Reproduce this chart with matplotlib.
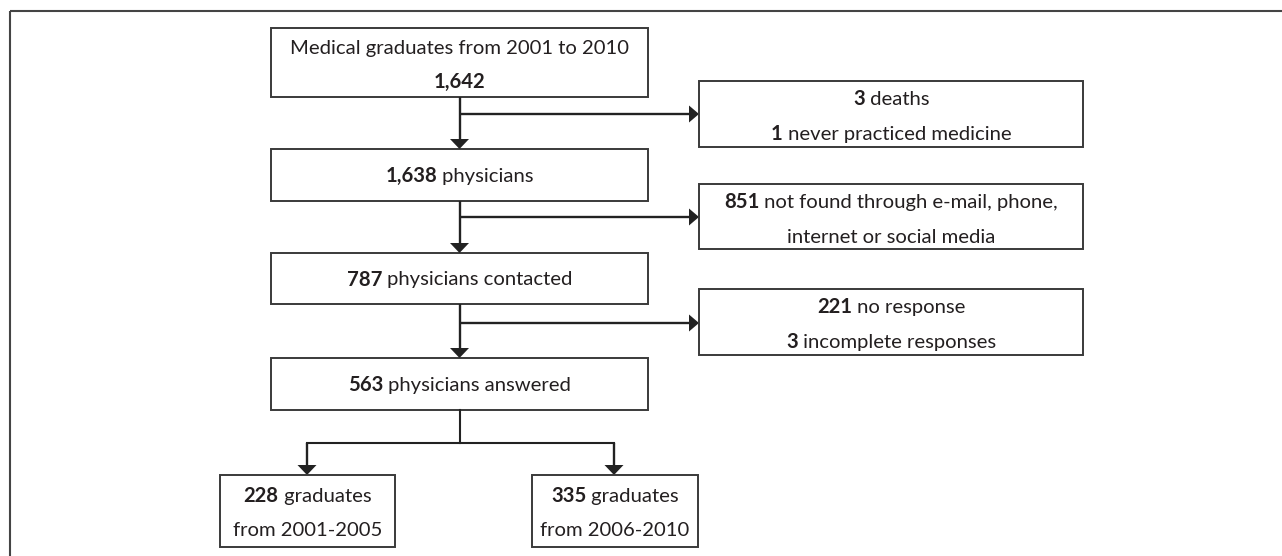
import matplotlib
matplotlib.use("Agg")
import matplotlib.pyplot as plt
from matplotlib.patches import Rectangle, Polygon

# flow data
step_counts = ["1,642", "1,638", "787", "563"]
step_texts = ["physicians", "physicians contacted", "physicians answered"]
first_step = "Medical graduates from 2001 to 2010"
excluded_counts = [["3", "1"], ["851", ""], ["221", "3"]]
excluded_texts = [["deaths", "never practiced medicine"],
                  ["not found through e-mail, phone,", "internet or social media"],
                  ["no response", "incomplete responses"]]
group_counts = ["228", "335"]
group_texts = ["from 2001-2005", "from 2006-2010"]

FONT = "Lato"
FS = 14.6
TXT = "#231f20"
EDGE = "#3a3a3a"
ARR = "#222222"

fig = plt.figure(figsize=(12.82, 5.56), dpi=100)
ax = fig.add_axes([0, 0, 1, 1])
ax.set_xlim(0, 1282)
ax.set_ylim(556, 0)
ax.axis("off")
renderer = fig.canvas.get_renderer()


def width_of(t):
    bb = t.get_window_extent(renderer=renderer)
    return bb.width


def line(xc, yc, bold_part, plain_part):
    # one centred line, bold number followed by regular text
    base = yc + 7
    parts = []
    if bold_part:
        parts.append((bold_part, "bold"))
    if plain_part:
        parts.append(((" " if bold_part else "") + plain_part, "normal"))
    texts = [ax.text(0, base, s, fontsize=FS, fontweight=w, family=FONT,
                     color=TXT, va="baseline", ha="left") for s, w in parts]
    widths = [width_of(t) for t in texts]
    x = xc - sum(widths) / 2
    for t, w in zip(texts, widths):
        t.set_x(x)
        x += w


def box(x0, y0, x1, y1):
    ax.add_patch(Rectangle((x0, y0), x1 - x0, y1 - y0, fill=False,
                           ec=EDGE, lw=1.4))


def arrow_down(x, y0, y1):
    ax.plot([x, x], [y0, y1 - 9], color=ARR, lw=1.7, solid_capstyle="butt")
    ax.add_patch(Polygon([[x - 9.5, y1 - 10], [x + 9.5, y1 - 10], [x, y1]],
                         closed=True, fc=ARR, ec="none"))


def arrow_right(x0, x1, y):
    ax.plot([x0, x1 - 9], [y, y], color=ARR, lw=1.7, solid_capstyle="butt")
    ax.add_patch(Polygon([[x1 - 10, y - 8.5], [x1 - 10, y + 8.5], [x1, y]],
                         closed=True, fc=ARR, ec="none"))


# outer frame (only top and left visible)
ax.add_patch(Rectangle((9.5, 10.5), 1400, 700, fill=False, ec="#444444", lw=1.5))

mx0, mx1 = 271, 648
mxc = 459.5
main_y = [(28, 97), (149, 201), (253, 304), (358, 410)]
rx0, rx1 = 699, 1083
rxc = (rx0 + rx1) / 2
right_y = [(81, 147), (184, 249), (289, 355)]
branch_y = [114, 217, 323]

for y0, y1 in main_y:
    box(mx0, y0, mx1, y1)

line(mxc, 47, "", first_step)
line(mxc, 81, step_counts[0], "")
for i in range(1, 4):
    y0, y1 = main_y[i]
    line(mxc, (y0 + y1) / 2, step_counts[i], step_texts[i - 1])

for i in range(3):
    arrow_down(mxc, main_y[i][1], main_y[i + 1][0])
    arrow_right(mxc, rx0, branch_y[i])
    y0, y1 = right_y[i]
    box(rx0, y0, rx1, y1)
    line(rxc, y0 + 17, excluded_counts[i][0], excluded_texts[i][0])
    line(rxc, y0 + 52, excluded_counts[i][1], excluded_texts[i][1])

# split into two graduate groups
split_y = 443
gx = [(220, 395), (532, 698)]
gy0, gy1 = 475, 547
ax.plot([mxc, mxc], [main_y[3][1], split_y], color=ARR, lw=1.5)
ax.plot([307, 614], [split_y, split_y], color=ARR, lw=1.5)
for (x0, x1), ax_x, cnt, txt in zip(gx, [307, 614], group_counts, group_texts):
    arrow_down(ax_x, split_y, gy0)
    box(x0, gy0, x1, gy1)
    line((x0 + x1) / 2, 495, cnt, "graduates")
    line((x0 + x1) / 2, 529, "", txt)

fig.savefig("out.png", dpi=100)
